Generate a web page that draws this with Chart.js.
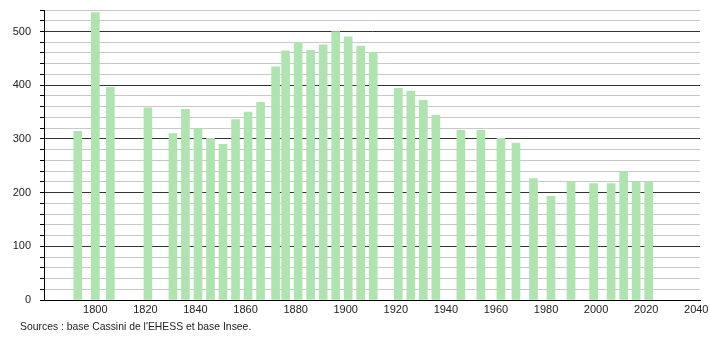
<!DOCTYPE html>
<html>
<head>
<meta charset="utf-8">
<script src="https://cdn.jsdelivr.net/npm/chart.js@4"></script>
<style>
  html, body { margin: 0; padding: 0; background: #fff; }
  #wrap { width: 710px; height: 340px; position: relative; }
</style>
</head>
<body>
<div id="wrap"><canvas id="popChart"></canvas></div>
<script>
// Census years and population
const years = [1793, 1800, 1806, 1821, 1831, 1836, 1841, 1846, 1851, 1856,
  1861, 1866, 1872, 1876, 1881, 1886, 1891, 1896, 1901, 1906, 1911,
  1921, 1926, 1931, 1936, 1946, 1954, 1962, 1968, 1975, 1982, 1990,
  1999, 2006, 2011, 2016, 2021];
const population = [314, 535, 396, 358, 310, 355, 319, 301, 290, 336,
  350, 368, 434, 464, 480, 465, 475, 500, 490, 473, 461,
  394, 389, 372, 344, 316, 316, 301, 292, 226, 193, 221,
  217, 217, 239, 220, 220];
const xTickLabels = [1800, 1820, 1840, 1860, 1880, 1900, 1920, 1940, 1960, 1980, 2000, 2020, 2040];
const yTicks = [0, 20, 40, 60, 80, 100, 120, 140, 160, 180, 200, 220, 240, 260, 280,
  300, 320, 340, 360, 380, 400, 420, 440, 460, 480, 500, 520, 540];

const barGreen = '#afe3af';
const fontSpec = { family: 'Liberation Sans, Arial, sans-serif', size: 11 };

// footer line under the axis
const sourceNote = {
  id: 'sourceNote',
  afterDraw(chart) {
    const c = chart.ctx;
    c.save();
    c.font = '10.4px Liberation Sans, Arial, sans-serif';
    c.fillStyle = '#222';
    c.textBaseline = 'middle';
    c.fillText("Sources : base Cassini de l'EHESS et base Insee.", 20, 327);
    c.restore();
  }
};

var ctx = document.getElementById('popChart').getContext('2d');
var chart = new Chart(ctx, {
  type: 'bar',
  data: {
    datasets: [{
      label: 'Population',
      data: years.map((y, i) => ({ x: y, y: population[i] })),
      backgroundColor: barGreen,
      borderWidth: 0,
      barThickness: 8
    }]
  },
  options: {
    responsive: true,
    maintainAspectRatio: false,
    animation: false,
    layout: { padding: { left: 0, top: 10, right: 10, bottom: 20 } },
    plugins: {
      legend: { display: false },
      tooltip: { enabled: false }
    },
    scales: {
      x: {
        type: 'linear',
        min: 1779.5,
        max: 2041.5,
        offset: false,
        afterBuildTicks: (scale) => { scale.ticks = xTickLabels.map(v => ({ value: v })); },
        afterFit: (scale) => { scale.height = 20; scale.paddingLeft = 0; scale.paddingRight = 0; },
        grid: { display: false, drawTicks: false },
        border: { display: true, color: '#000', width: 1 },
        ticks: {
          color: '#222',
          font: fontSpec,
          padding: 3,
          maxRotation: 0,
          autoSkip: false,
          callback: (v) => String(v)
        }
      },
      y: {
        min: 0,
        max: 540,
        afterBuildTicks: (scale) => { scale.ticks = yTicks.map(v => ({ value: v })); },
        afterFit: (scale) => { scale.width = 44; scale.paddingTop = 0; scale.paddingBottom = 0; },
        border: { display: true, color: '#000', width: 1 },
        grid: {
          color: (c) => (c.tick && c.tick.value % 100 === 0) ? '#333' : '#c8c8c8',
          tickColor: '#000',
          tickLength: 4,
          lineWidth: 1
        },
        ticks: {
          color: '#222',
          font: fontSpec,
          padding: 9,
          autoSkip: false,
          callback: (v) => (v % 100 === 0 ? String(v) : '')
        }
      }
    }
  },
  plugins: [sourceNote]
});
</script>
</body>
</html>
